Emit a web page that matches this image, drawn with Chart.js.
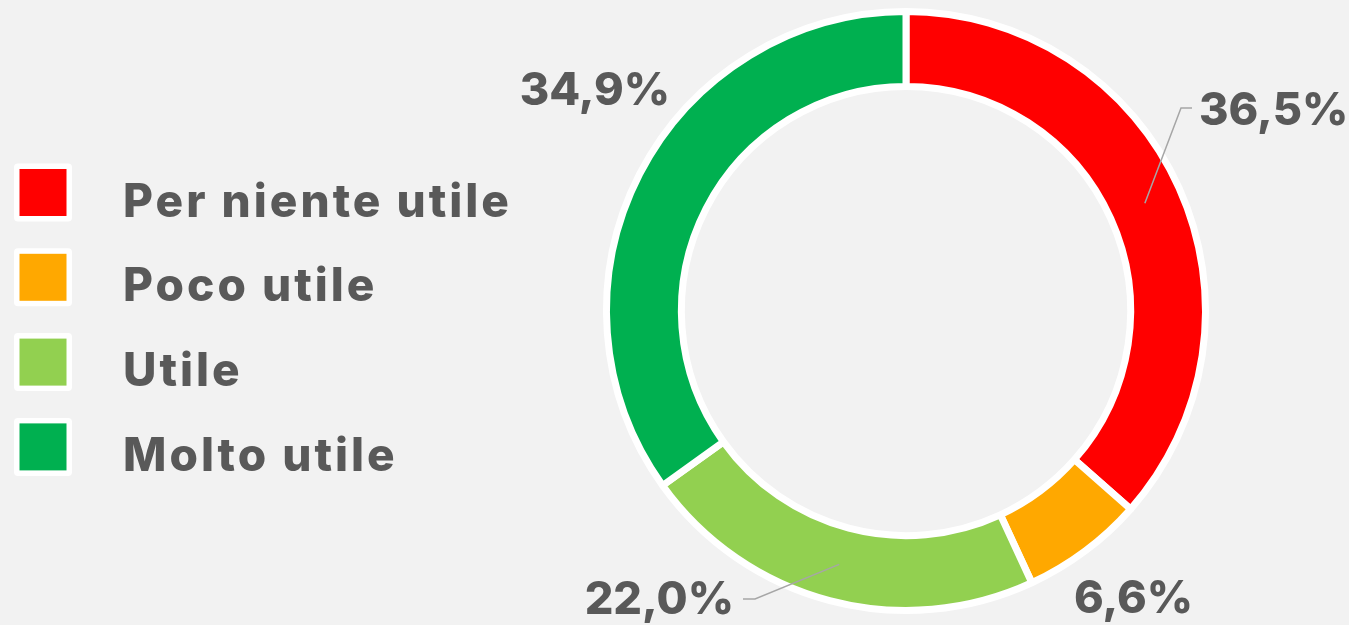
<!DOCTYPE html>
<html lang="it">
<head>
<meta charset="utf-8">
<title>Utilità</title>
<script src="https://cdn.jsdelivr.net/npm/chart.js@4.4.1/dist/chart.umd.min.js"></script>
<style>
    html, body { margin: 0; padding: 0; background: #f2f2f2; }
    #wrap { width: 1349px; height: 625px; position: relative; }
</style>
</head>
<body>
<div id="wrap"><canvas id="utilChart"></canvas></div>
<script>
// Data
const categories = ['Per niente utile', 'Poco utile', 'Utile', 'Molto utile'];
const shares = [36.5, 6.6, 22.0, 34.9];
const sliceColors = ['#FF0000', '#FFA800', '#92D050', '#00B050'];

const textColor = '#595959';
const fontFamily = 'Inter, "Open Sans", sans-serif';
const fontSize = 46;

function fmtPct(v) {
    return v.toFixed(1).replace('.', ',') + '%';
}

// Legend on the left, drawn from chart data
const sideLegend = {
    id: 'sideLegend',
    afterDraw(chart) {
        const ctx = chart.ctx;
        const ds = chart.data.datasets[0];
        ctx.save();
        ctx.font = '800 ' + fontSize + 'px ' + fontFamily;
        ctx.letterSpacing = '3px';
        ctx.textBaseline = 'alphabetic';
        ctx.textAlign = 'left';
        chart.data.labels.forEach(function(label, i) {
            const cy = 192.5 + i * 84.8;
            ctx.fillStyle = '#ffffff';
            ctx.beginPath();
            ctx.roundRect(14, cy - 29, 58, 58, 4);
            ctx.fill();
            ctx.fillStyle = ds.backgroundColor[i];
            ctx.fillRect(19.5, cy - 23.5, 47, 47);
            ctx.fillStyle = textColor;
            ctx.fillText(label, 123, cy + 24);
        });
        ctx.restore();
    }
};

// Percent labels with leader lines
const pctLabels = {
    id: 'pctLabels',
    afterDatasetsDraw(chart, args, opts) {
        const ctx = chart.ctx;
        const meta = chart.getDatasetMeta(0);
        const values = chart.data.datasets[0].data;
        ctx.save();
        ctx.font = '800 45px ' + fontFamily;
        ctx.textBaseline = 'alphabetic';
        opts.spots.forEach(function(s, i) {
            const arc = meta.data[i];
            const p = arc.tooltipPosition();
            if (s.elbow) {
                ctx.strokeStyle = '#A6A6A6';
                ctx.lineWidth = 1.5;
                ctx.beginPath();
                ctx.moveTo(p.x, p.y);
                ctx.lineTo(s.elbow[0], s.elbow[1]);
                ctx.lineTo(s.end[0], s.end[1]);
                ctx.stroke();
            }
            ctx.fillStyle = textColor;
            ctx.textAlign = s.align;
            ctx.fillText(fmtPct(values[i]), s.x, s.y);
        });
        ctx.restore();
    }
};

new Chart(document.getElementById('utilChart').getContext('2d'), {
    type: 'doughnut',
    data: {
        labels: categories,
        datasets: [{
            data: shares,
            backgroundColor: sliceColors,
            borderColor: '#ffffff',
            borderWidth: 7,
            hoverOffset: 0
        }]
    },
    options: {
        responsive: true,
        maintainAspectRatio: false,
        animation: false,
        radius: 299.5,
        cutout: '75%',
        layout: {
            padding: { left: 463, right: 0, top: 0, bottom: 3 }
        },
        plugins: {
            legend: { display: false },
            tooltip: { enabled: false },
            pctLabels: {
                spots: [
                    { x: 1199, y: 125, align: 'left', elbow: [1181, 108], end: [1192, 108] },
                    { x: 1193, y: 613, align: 'right' },
                    { x: 734, y: 614, align: 'right', elbow: [755, 599], end: [743, 599] },
                    { x: 670, y: 105, align: 'right' }
                ]
            }
        }
    },
    plugins: [sideLegend, pctLabels]
});
</script>
</body>
</html>
